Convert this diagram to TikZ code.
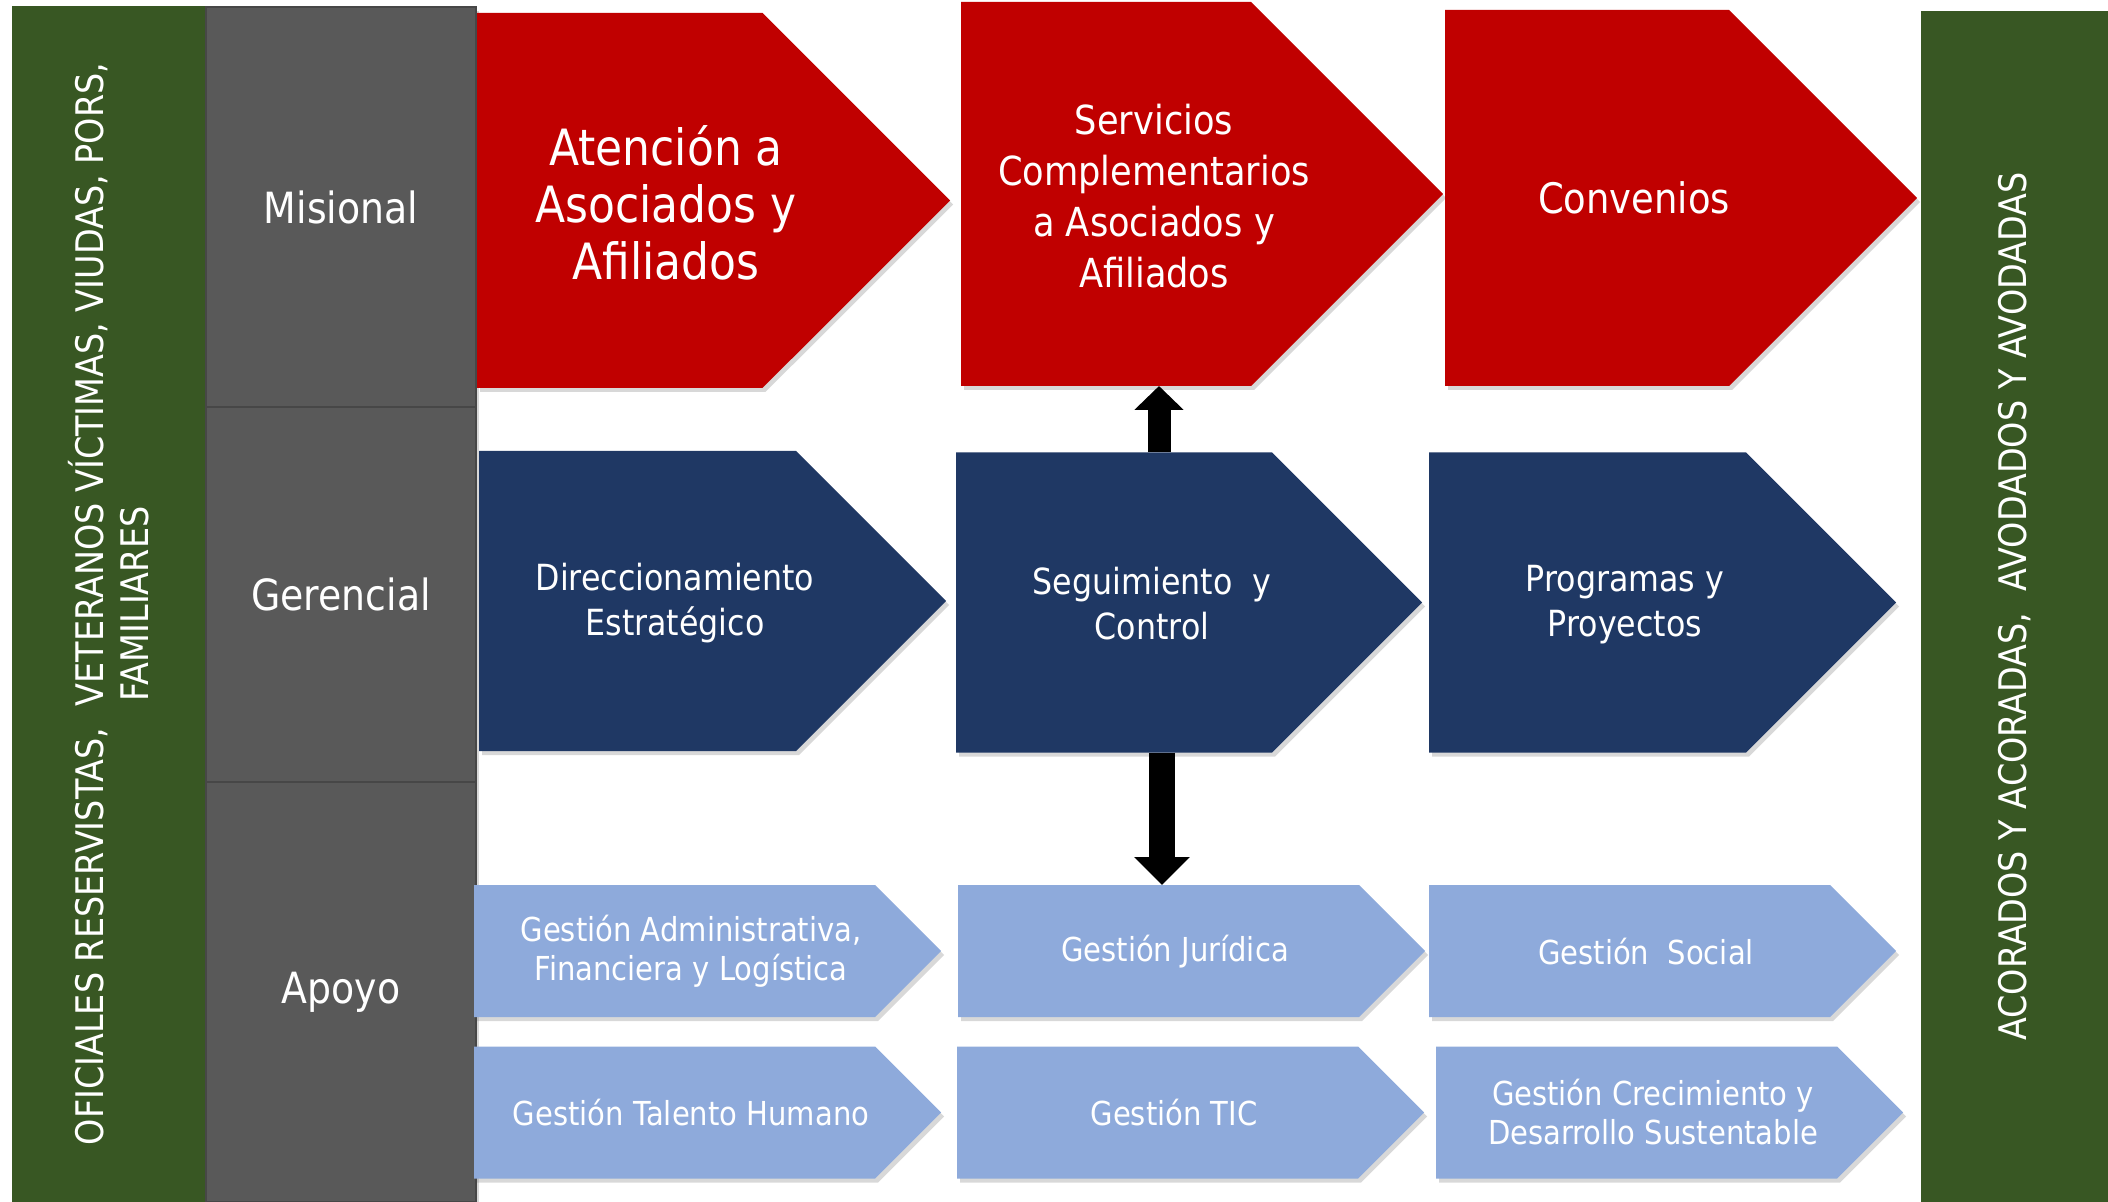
\documentclass[tikz,border=0pt]{standalone}
\usepackage{fontspec}
\setmainfont{DejaVu Sans}[FakeStretch=0.88]
\usepackage{tikz}
\usetikzlibrary{shapes.symbols,shadows,arrows.meta,positioning}
\definecolor{redmis}{RGB}{192,0,0}
\definecolor{bluegen}{RGB}{31,56,100}
\definecolor{blueapo}{RGB}{142,170,219}
\definecolor{grayrow}{RGB}{89,89,89}
\definecolor{greenbar}{RGB}{56,87,35}

\begin{document}
\begin{tikzpicture}[x=0.5pt,y=-0.5pt,
  myshadow/.style={drop shadow={shadow xshift=1.5pt,shadow yshift=-2pt,opacity=.3}},
  chev/.style={signal,signal to=east,signal from=nowhere,signal pointer angle=90,
    inner sep=0pt,outer sep=0pt,anchor=west,myshadow},
  chevr/.style={chev,fill=redmis},
  chevb/.style={chev,fill=bluegen,minimum height=150pt},
  chevl/.style={chev,fill=blueapo,minimum height=66pt,minimum width=233.5pt},
  txt/.style={text=white,align=center,inner sep=0pt},
  txtr/.style={txt,font=\fontsize{25}{28.5}\selectfont},
  txtb/.style={txt,font=\fontsize{18}{22.5}\selectfont},
  txtl/.style={txt,font=\fontsize{16.5}{19.5}\selectfont},
  rowcell/.style={rectangle,fill=grayrow,draw=black!72,line width=0.6pt,text=white,
    minimum width=135pt,inner sep=0pt,outer sep=0pt,font=\fontsize{21.5}{25}\selectfont,myshadow},
  sidebar/.style={rectangle,fill=greenbar,text=white,align=center,rotate=90,
    inner sep=0pt,outer sep=0pt,font=\fontsize{19}{22.5}\selectfont,myshadow}
]
\useasboundingbox[fill=white] (0,0) rectangle (2108,1202);

% side bars
\node[sidebar,minimum width=598pt,minimum height=97pt] (who) at (109,604)
  {OFICIALES RESERVISTAS,~ VETERANOS VÍCTIMAS, VIUDAS, PORS,\\FAMILIARES};
\node[sidebar,minimum width=595.5pt,minimum height=93.5pt] (out) at (2014.5,606.5)
  {ACORADOS Y ACORADAS,~ AVODADOS Y AVODADAS};

% levels
\node[rowcell,minimum height=200pt,anchor=north west] (mis) at (206,7) {Misional};
\node[rowcell,minimum height=187.5pt,below=0pt of mis] (ger) {Gerencial};
\node[rowcell,minimum height=210pt,below=0pt of ger] (apo) {Apoyo};

% misional
\node[chevr,minimum width=236.5pt,minimum height=187.5pt] (aten) at (477,200.5) {};
\node[chevr,minimum width=241pt,minimum height=192pt] (serv) at (961,194) {};
\node[chevr,minimum width=236pt,minimum height=188pt] (conv) at (1445,198) {};
\node[txtr] (aten-t) at (666,203) {Atención a\\Asociados y\\Afiliados};
\node[txt,font=\fontsize{20}{25.5}\selectfont] (serv-t) at (1154,196)
  {Servicios\\Complementarios\\a Asociados y\\Afiliados};
\node[txt,font=\fontsize{21}{25}\selectfont] (conv-t) at (1634,198) {Convenios};

% gerencial
\node[chevb,minimum width=233.5pt] (dir) at (479,601) {};
\node[chevb,minimum width=233pt] (seg) at (956,602.5) {};
\node[chevb,minimum width=233.5pt] (prog) at (1429,602.5) {};
\node[txtb] (dir-t) at (675,603) {Direccionamiento\\Estratégico};
\node[txtb] (seg-t) at (1152,604) {Seguimiento~ y\\Control};
\node[txtb] (prog-t) at (1625,605) {Programas y\\Proyectos};

% apoyo
\node[chevl] (adm) at (474,951) {};
\node[chevl] (jur) at (958,951) {};
\node[chevl] (soc) at (1429,951) {};
\node[chevl] (tal) at (474,1112.5) {};
\node[chevl] (tic) at (957,1112.5) {};
\node[chevl] (cre) at (1436,1112.5) {};
\node[txtl] (adm-t) at (691,951) {Gestión Administrativa,\\Financiera y Logística};
\node[txtl] (jur-t) at (1175,952) {Gestión Jurídica};
\node[txtl] (soc-t) at (1646,952) {Gestión~ Social};
\node[txtl] (tal-t) at (691,1113) {Gestión Talento Humano};
\node[txtl] (tic-t) at (1174,1113) {Gestión TIC};
\node[txtl] (cre-t) at (1653,1112.5) {Gestión Crecimiento y\\Desarrollo Sustentable};

% arrows
\coordinate (upx) at (1159,0);
\coordinate (dnx) at (1162,0);
\draw[line width=11.5pt,-{Triangle[width=24pt,length=12pt]}] (seg.north -| upx) -- (serv.south -| upx);
\draw[line width=13pt,-{Triangle[width=27pt,length=14pt]}] (seg.south -| dnx) -- (jur.north -| dnx);

\end{tikzpicture}
\end{document}
